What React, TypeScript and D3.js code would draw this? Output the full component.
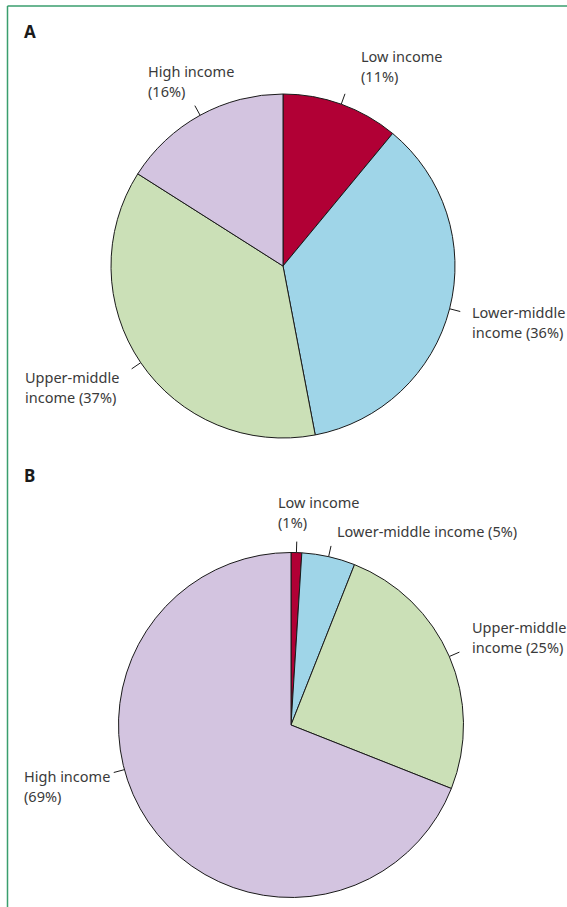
import React from "react";
import * as d3 from "d3";

const categories = ["Low income", "Lower-middle income", "Upper-middle income", "High income"];
const sharesA = [11, 36, 37, 16];
const sharesB = [1, 5, 25, 69];
const sliceColors = ["#b10035", "#9fd5e8", "#cbe0b7", "#d3c4e0"];

// label text lines per category for each panel
const labelLinesA = [["Low income", "(11%)"], ["Lower-middle", "income (36%)"], ["Upper-middle", "income (37%)"], ["High income", "(16%)"]];
const labelLinesB = [["Low income", "(1%)"], ["Lower-middle income (5%)"], ["Upper-middle", "income (25%)"], ["High income", "(69%)"]];

type LabelLayout = { x: number; y: number; angle?: number };

const W = 567;
const H = 907;
const FONT = "'Noto Sans', 'Open Sans', sans-serif";

interface PanelProps {
  letter: string;
  letterY: number;
  cx: number;
  cy: number;
  r: number;
  values: number[];
  lines: string[][];
  layout: LabelLayout[];
}

function PiePanel({ letter, letterY, cx, cy, r, values, lines, layout }: PanelProps) {
  const pie = d3.pie<number>().sort(null).value((d) => d);
  const arcs = pie(values);
  const arc = d3.arc<d3.PieArcDatum<number>>().innerRadius(0).outerRadius(r);
  const tick = 11;
  return (
    <g>
      <text x={24} y={letterY} fontFamily={FONT} fontWeight={700} fontSize={17} fill="#1a1a1a">
        {letter}
      </text>
      <g transform={`translate(${cx},${cy})`}>
        {arcs.map((a, i) => (
          <path key={i} d={arc(a) || ""} fill={sliceColors[i]} stroke="#1a1a1a" strokeWidth={1} />
        ))}
        {arcs.map((a, i) => {
          const ang = layout[i].angle !== undefined ? (layout[i].angle as number) * Math.PI / 180 : (a.startAngle + a.endAngle) / 2;
          const s = Math.sin(ang);
          const c = -Math.cos(ang);
          return (
            <line key={"l" + i} x1={r * s} y1={r * c} x2={(r + tick) * s} y2={(r + tick) * c} stroke="#1a1a1a" strokeWidth={1} />
          );
        })}
      </g>
      {lines.map((ls, i) => (
        <text key={"t" + i} fontFamily={FONT} fontSize={14.5} fill="#3a3a3a" aria-label={categories[i]}>
          {ls.map((t, j) => (
            <tspan key={j} x={layout[i].x} y={layout[i].y + j * 20}>
              {t}
            </tspan>
          ))}
        </text>
      ))}
    </g>
  );
}

const layoutA: LabelLayout[] = [
  { x: 361, y: 62 },
  { x: 472, y: 318 },
  { x: 25, y: 383 },
  { x: 148, y: 77 },
];
const layoutB: LabelLayout[] = [
  { x: 278, y: 508 },
  { x: 337, y: 537 },
  { x: 472, y: 633 },
  { x: 24, y: 782, angle: 255 },
];

export default function App() {
  return (
    <svg
      width={W}
      height={H}
      viewBox={`0 0 ${W} ${H}`}
      style={{ position: "absolute", left: 0, top: 0, background: "#ffffff" }}
    >
      <rect x={0} y={0} width={W} height={H} fill="#ffffff" />
      <line x1={7.5} y1={6} x2={W} y2={6} stroke="#3a9e6e" strokeWidth={1.5} />
      <line x1={7.5} y1={6} x2={7.5} y2={H} stroke="#3a9e6e" strokeWidth={1.5} />
      <PiePanel letter="A" letterY={38} cx={283} cy={266} r={172} values={sharesA} lines={labelLinesA} layout={layoutA} />
      <PiePanel letter="B" letterY={482} cx={291} cy={725} r={172.5} values={sharesB} lines={labelLinesB} layout={layoutB} />
    </svg>
  );
}
